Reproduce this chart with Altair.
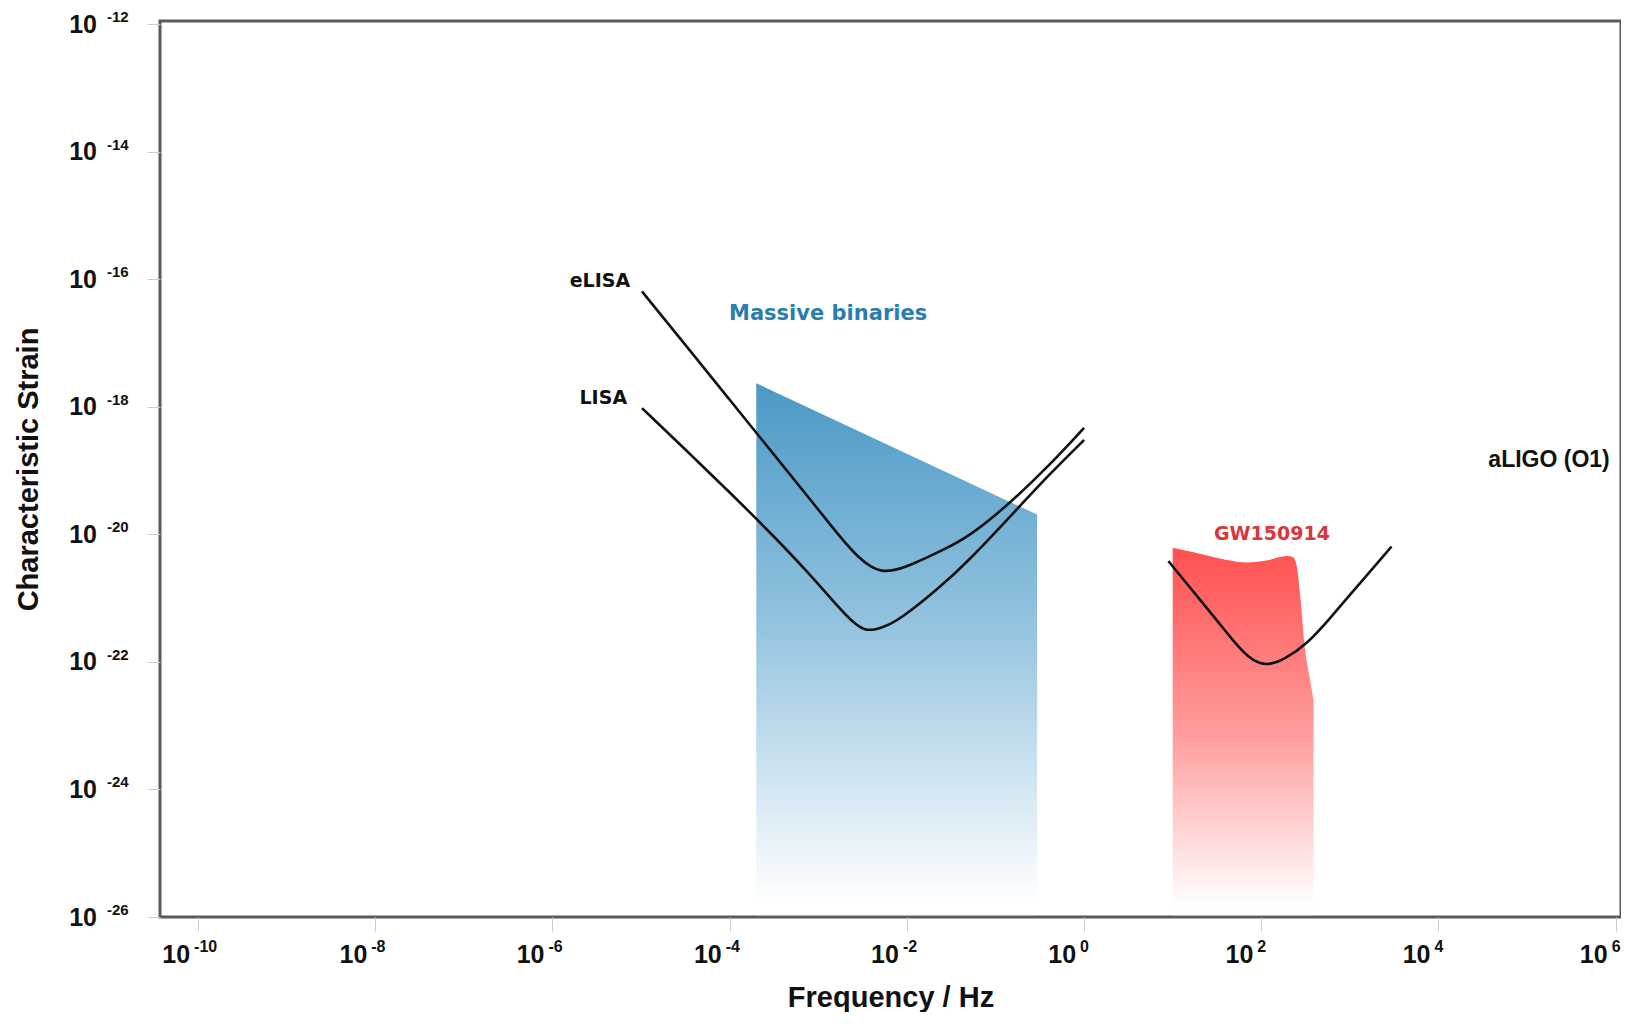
import altair as alt
import pandas as pd

# ---- values (log10 frequency [Hz], log10 characteristic strain) ----
elisa_logf = [-4.99, -4.5, -4.0, -3.5, -3.0, -2.75, -2.55, -2.40, -2.29, -2.15, -1.95, -1.60, -1.29, -0.835, -0.4, 0.0]
elisa_logh = [-16.19, -17.03, -17.89, -18.75, -19.61, -20.05, -20.36, -20.52, -20.58, -20.57, -20.48, -20.25, -20.03, -19.51, -18.93, -18.33]

lisa_logf = [-4.99, -4.5, -4.0, -3.5, -3.1, -2.85, -2.68, -2.57, -2.48, -2.36, -2.20, -2.04, -1.66, -1.29, -0.76, -0.4, 0.0]
lisa_logh = [-18.02, -18.67, -19.34, -20.03, -20.62, -21.02, -21.28, -21.42, -21.50, -21.50, -21.42, -21.29, -20.87, -20.40, -19.61, -19.07, -18.52]

aligo_logf = [0.952, 1.234, 1.50, 1.70, 1.85, 1.98, 2.10, 2.25, 2.51, 2.78, 3.0, 3.47]
aligo_logh = [-20.42, -20.90, -21.35, -21.70, -21.92, -22.03, -22.04, -21.97, -21.73, -21.31, -20.95, -20.19]

binaries_logf = [-3.70, -0.53]
binaries_logh = [-17.63, -19.69]

gw_logf = [1.0, 1.235, 1.61, 1.836, 2.06, 2.29, 2.36, 2.40, 2.44, 2.49, 2.55, 2.59]
gw_logh = [-20.21, -20.28, -20.40, -20.44, -20.41, -20.34, -20.36, -20.50, -20.97, -21.76, -22.28, -22.60]

ann_text = ["eLISA", "LISA", "Massive binaries", "GW150914", "aLIGO (O1)"]
ann_logf = [-5.124, -5.158, -2.889, 2.12, 5.248]
ann_logh = [-16.03, -17.86, -16.54, -20.0, -18.83]

x_exps = [-10, -8, -6, -4, -2, 0, 2, 4, 6]
y_exps = [-26, -24, -22, -20, -18, -16, -14, -12]

x_dom_log = [-10.43, 6.06]
y_dom_log = [-26.0, -11.95]

# ---- tables ----
def curve(name, lf, lh):
    return pd.DataFrame({"series": name, "f": [10.0 ** v for v in lf], "h": [10.0 ** v for v in lh]})

lines_df = pd.concat([curve("eLISA", elisa_logf, elisa_logh),
                      curve("LISA", lisa_logf, lisa_logh),
                      curve("aLIGO (O1)", aligo_logf, aligo_logh)], ignore_index=True)
binaries_df = curve("Massive binaries", binaries_logf, binaries_logh)
gw_df = curve("GW150914", gw_logf, gw_logh)
ann_df = pd.DataFrame({"lab": ann_text, "f": [10.0 ** v for v in ann_logf], "h": [10.0 ** v for v in ann_logh]})

y_bottom = 10.0 ** y_dom_log[0]
x_left = 10.0 ** x_dom_log[0]
xt_df = pd.DataFrame({"f": [10.0 ** e for e in x_exps], "h": y_bottom, "base": "10", "exp": [str(e) for e in x_exps]})
yt_df = pd.DataFrame({"f": x_left, "h": [10.0 ** e for e in y_exps], "base": "10", "exp": [str(e) for e in y_exps]})

W, H = 1461, 896

xscale = alt.Scale(type="log", domain=[10.0 ** v for v in x_dom_log], nice=False, zero=False)
yscale = alt.Scale(type="log", domain=[10.0 ** v for v in y_dom_log], nice=False, zero=False)

xaxis = alt.Axis(values=[10.0 ** e for e in x_exps], labels=False, grid=False, domain=False,
                 ticks=True, tickSize=14, tickColor="#cccccc", tickWidth=1,
                 title="Frequency / Hz", titleFont="Liberation Sans", titleFontSize=29,
                 titleFontWeight="bold", titleColor="#111111",
                 titleX=W / 2, titleY=89, titleAlign="center", titleBaseline="alphabetic")
yaxis = alt.Axis(values=[10.0 ** e for e in y_exps], labels=False, grid=False, domain=False,
                 ticks=True, tickSize=13, tickColor="#cccccc", tickWidth=1,
                 title="Characteristic Strain", titleFont="Liberation Sans", titleFontSize=29,
                 titleFontWeight="bold", titleColor="#111111", titleAngle=270,
                 titleX=-123, titleY=H / 2, titleAlign="center", titleBaseline="alphabetic")

X = alt.X("f:Q", scale=xscale, axis=xaxis)
Y = alt.Y("h:Q", scale=yscale, axis=yaxis)

blue_grad = alt.Gradient(gradient="linear", x1=0, x2=0, y1=0, y2=1, stops=[
    alt.GradientStop(color="#4a99c6", offset=0),
    alt.GradientStop(color="#93c3df", offset=0.45),
    alt.GradientStop(color="#ffffff", offset=0.97),
    alt.GradientStop(color="rgba(255,255,255,0)", offset=1)])
red_grad = alt.Gradient(gradient="linear", x1=0, x2=0, y1=0, y2=1, stops=[
    alt.GradientStop(color="#ff5050", offset=0),
    alt.GradientStop(color="#ff9c9c", offset=0.5),
    alt.GradientStop(color="#ffffff", offset=0.97),
    alt.GradientStop(color="rgba(255,255,255,0)", offset=1)])

binaries = alt.Chart(binaries_df).mark_area(color=blue_grad, interpolate="linear").encode(
    x=X, y=Y, y2=alt.Y2(datum=y_bottom))
gw = alt.Chart(gw_df).mark_area(color=red_grad, interpolate="monotone").encode(
    x=X, y=Y, y2=alt.Y2(datum=y_bottom))

lines = alt.Chart(lines_df).mark_line(color="#111111", strokeWidth=2.6, interpolate="basis").encode(
    x=X, y=Y, detail="series:N")

def ann(label, color, font, size, align):
    return alt.Chart(ann_df).transform_filter(alt.datum.lab == label).mark_text(
        color=color, font=font, fontSize=size, fontWeight="bold", align=align, baseline="middle"
    ).encode(x=X, y=Y, text="lab:N")

anns = [
    ann("eLISA", "#111111", "DejaVu Sans", 19, "right"),
    ann("LISA", "#111111", "DejaVu Sans", 19, "right"),
    ann("Massive binaries", "#2b7eab", "DejaVu Sans", 21, "center"),
    ann("GW150914", "#d9363d", "DejaVu Sans", 19, "center"),
    ann("aLIGO (O1)", "#111111", "Liberation Sans", 23, "center"),
]

lab_font = "Liberation Sans"
xt_base = alt.Chart(xt_df).mark_text(font=lab_font, fontSize=25, fontWeight="bold", color="#111111",
                                     align="right", baseline="alphabetic", dx=-8, dy=46).encode(
    x=X, y=Y, text="base:N")
xt_exp = alt.Chart(xt_df).mark_text(font=lab_font, fontSize=16, fontWeight="bold", color="#111111",
                                    align="left", baseline="alphabetic", dx=-4, dy=35).encode(
    x=X, y=Y, text="exp:N")
yt_base = alt.Chart(yt_df).mark_text(font=lab_font, fontSize=25, fontWeight="bold", color="#111111",
                                     align="right", baseline="alphabetic", dx=-63, dy=8.5).encode(
    x=X, y=Y, text="base:N")
yt_exp = alt.Chart(yt_df).mark_text(font=lab_font, fontSize=15, fontWeight="bold", color="#111111",
                                    align="left", baseline="alphabetic", dx=-53, dy=-2).encode(
    x=X, y=Y, text="exp:N")

chart = alt.layer(binaries, gw, lines, *anns, xt_base, xt_exp, yt_base, yt_exp).properties(
    width=W, height=H,
    autosize=alt.AutoSizeParams(type="none"),
    padding={"left": 152, "top": 13, "right": 0, "bottom": 95},
    background="white",
).configure_view(stroke="#5a5a5a", strokeWidth=3)

chart.save("out.html", embed_options={"renderer": "svg", "actions": False})
